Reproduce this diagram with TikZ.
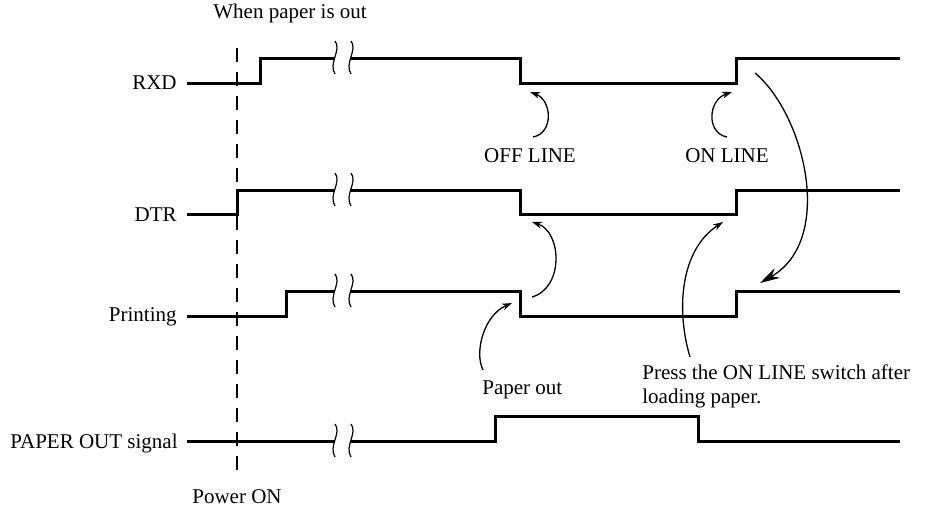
\documentclass[tikz,border=0pt]{standalone}
\usepackage{fontspec}
\setmainfont{Liberation Serif}
\usetikzlibrary{arrows.meta}
\tikzset{
  signal/.style={line width=1.5pt, line join=miter},
  brk/.style={line width=0.6pt},
  note/.style={-{Stealth[length=5pt,width=3.4pt]}, line width=0.65pt},
  bignote/.style={-{Stealth[length=10pt,width=5.5pt]}, line width=0.65pt},
  txt/.style={inner sep=0pt, font=\fontsize{10.5}{12}\selectfont},
}
\begin{document}
\begin{tikzpicture}[x=0.5pt, y=-0.5pt]
\useasboundingbox (0,0) rectangle (926,511);
% signal names
\node[txt, anchor=base east] (rxd) at (177,89) {RXD};
\node[txt, anchor=base east] (dtr) at (177,221) {DTR};
\node[txt, anchor=base east] (prn) at (177,321) {Printing};
\node[txt, anchor=base east] (pout) at (178,448) {PAPER OUT signal};
% notes
\node[txt, anchor=base west] (whenout) at (213,18) {When paper is out};
\node[txt, anchor=base west] (poweron) at (192,503) {Power ON};
\node[txt, anchor=base] (offline) at (530,162) {OFF LINE};
\node[txt, anchor=base] (online) at (727,162) {ON LINE};
\node[txt, anchor=base west] (paperout) at (482,394) {Paper out};
\node[txt, anchor=base west] (press) at (642,379) {Press the ON LINE switch after};
\node[txt, anchor=base west] (loading) at (642,403) {loading paper.};
% power on marker
\coordinate (pon-top) at (237,48);
\coordinate (pon-bot) at (237,470);
\draw[dash pattern=on 7pt off 5pt, line width=0.65pt] (pon-top) -- (pon-bot);
% signals
\draw[signal] (187,83) -- (260,83) -- (260,58) -- (335,58);
\draw[signal] (351,58) -- (520,58) -- (520,83) -- (736,83) -- (736,58) -- (900,58);
\draw[signal] (187,214) -- (237,214) -- (237,190) -- (335,190);
\draw[signal] (351,190) -- (520,190) -- (520,214) -- (736,214) -- (736,190) -- (900,190);
\draw[signal] (187,316) -- (286,316) -- (286,291) -- (335,291);
\draw[signal] (351,291) -- (520,291) -- (520,316) -- (736,316) -- (736,291) -- (900,291);
\draw[signal] (187,441) -- (335,441);
\draw[signal] (351,441) -- (495,441) -- (495,416) -- (698,416) -- (698,441) -- (900,441);
% break marks
\foreach \y in {58,190,291,441}
  \foreach \x in {335,351}
    \draw[brk] (\x,\y-17) .. controls (\x+7,\y-8) and (\x-7,\y+5) .. (\x,\y+16);
% arrows
\coordinate (off-tail) at (533,137);
\coordinate (off-tip) at (530,92);
\coordinate (on-tail) at (727,137);
\coordinate (on-tip) at (732,92);
\coordinate (prn-tail) at (532,297);
\coordinate (dtr-tip) at (532,222);
\coordinate (out-tail) at (483,370);
\coordinate (out-tip) at (512,303);
\coordinate (press-tail) at (690,357);
\coordinate (press-tip) at (723,222);
\coordinate (rxd-tail) at (755,73);
\coordinate (prn-tip) at (760,283);
\draw[note] (off-tail) .. controls (554,133) and (552,100) .. (off-tip);
\draw[note] (on-tail) .. controls (706,133) and (708,100) .. (on-tip);
\draw[note] (prn-tail) .. controls (564,288) and (562,232) .. (dtr-tip);
\draw[note] (out-tail) .. controls (474,352) and (484,315) .. (out-tip);
\draw[note] (press-tail) .. controls (676,310) and (680,250) .. (press-tip);
\draw[bignote] (rxd-tail) .. controls (805,115) and (835,240) .. (prn-tip);
\end{tikzpicture}
\end{document}
